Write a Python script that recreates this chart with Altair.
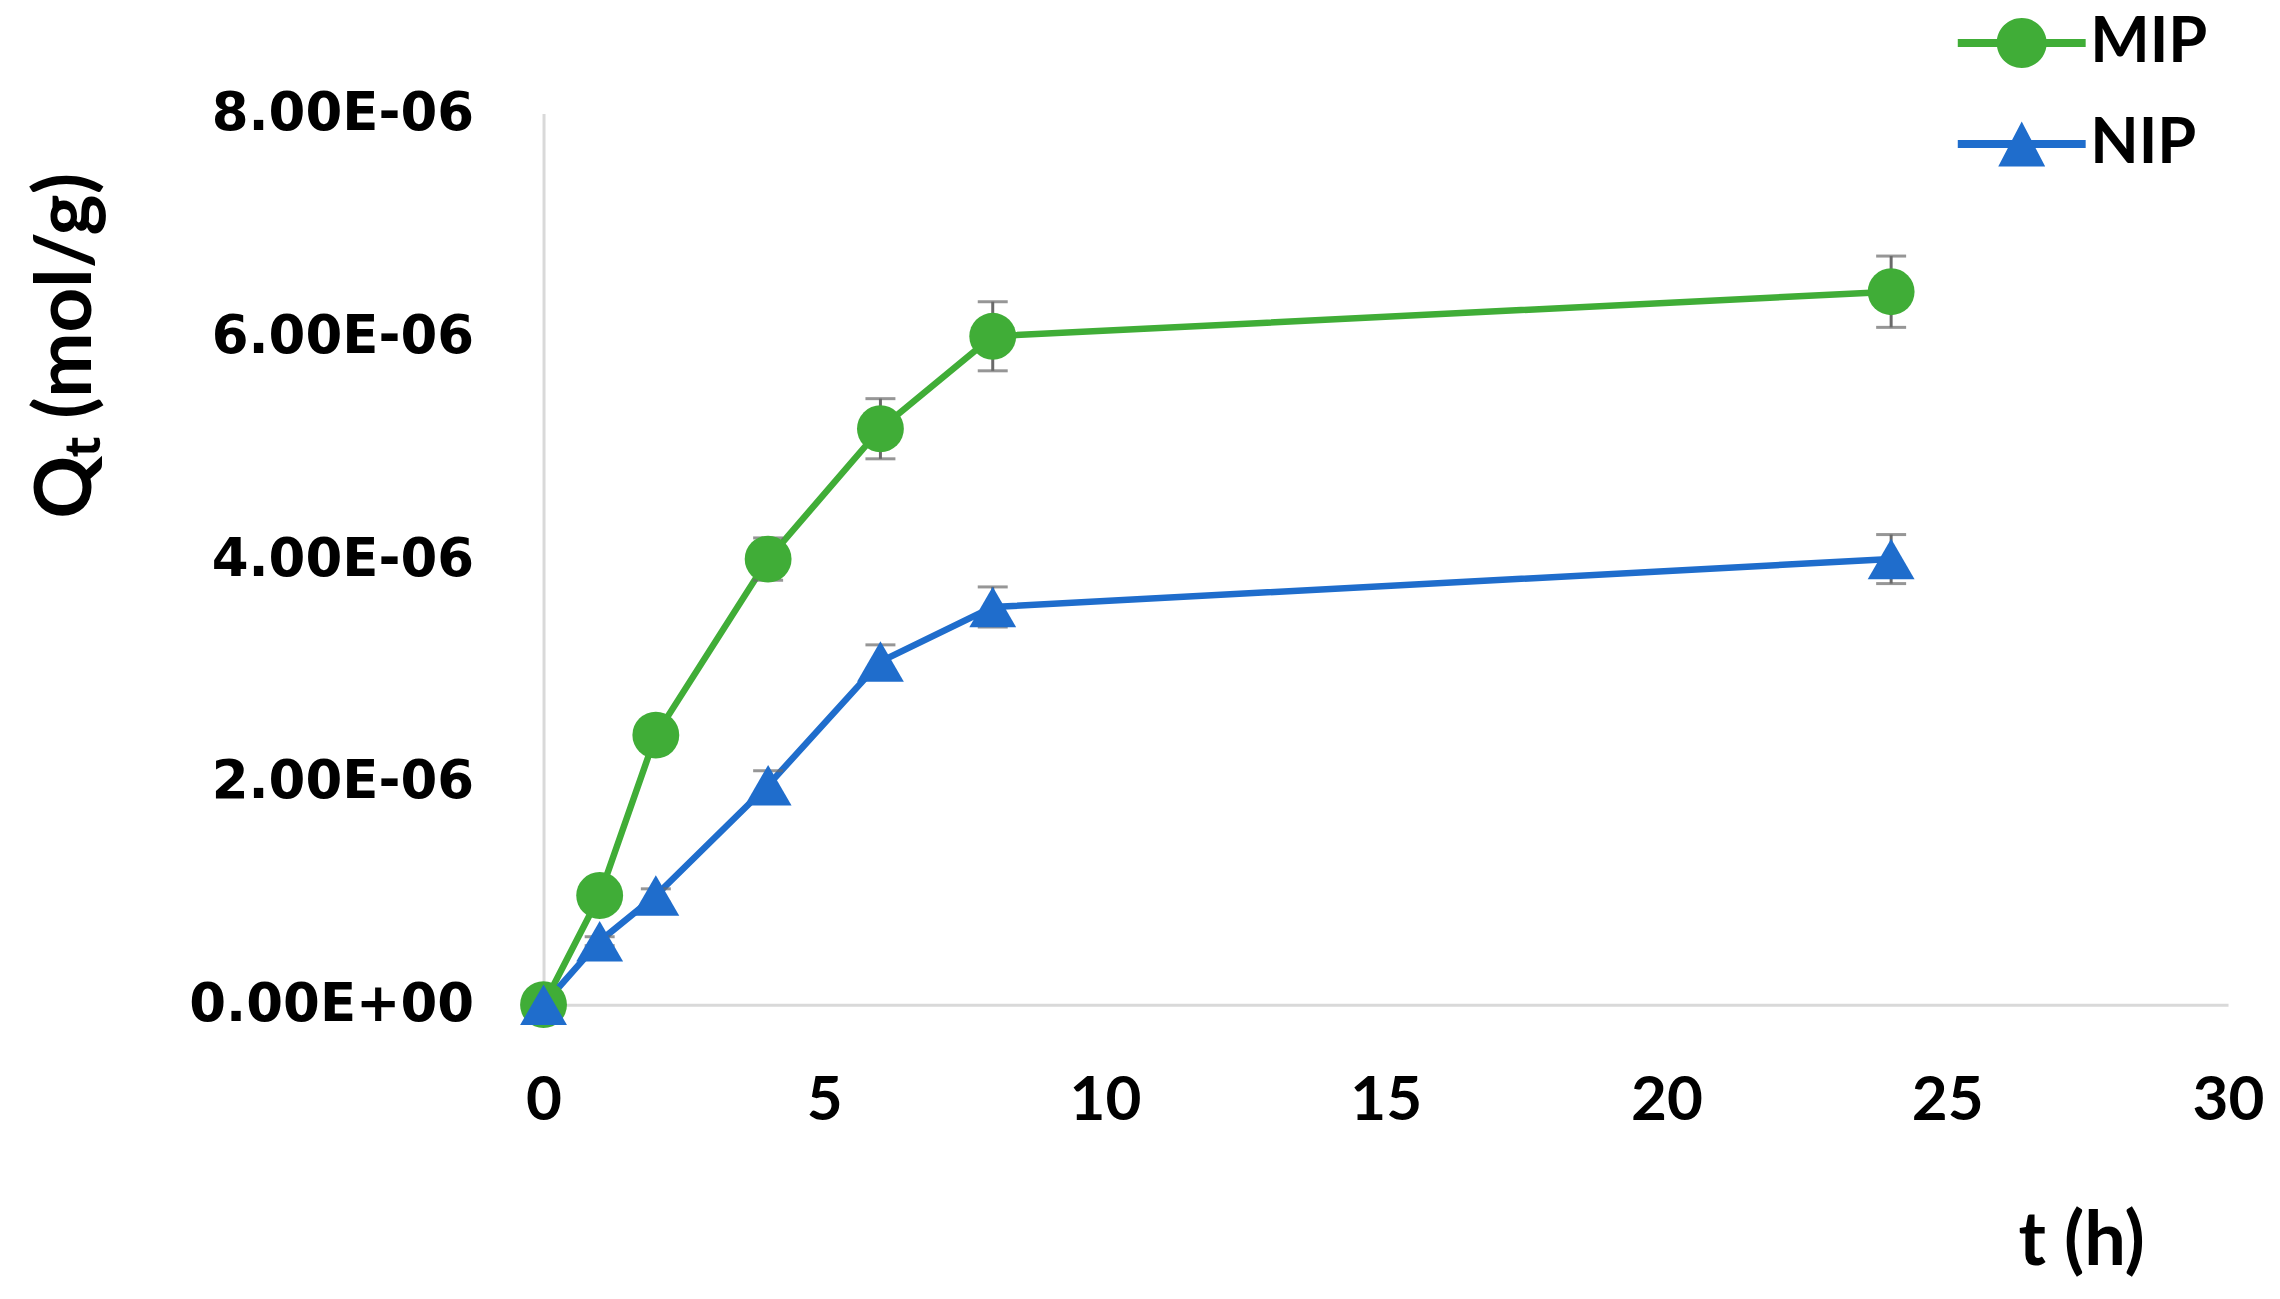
import altair as alt
import pandas as pd

# ---- data ----
t_hours = [0, 1, 2, 4, 6, 8, 24]
mip_q = [0.0, 0.98e-6, 2.42e-6, 4.00e-6, 5.17e-6, 6.00e-6, 6.40e-6]
mip_err = [0.0, 0.04e-6, 0.06e-6, 0.19e-6, 0.27e-6, 0.31e-6, 0.32e-6]
nip_q = [0.0, 0.57e-6, 0.98e-6, 1.97e-6, 3.08e-6, 3.57e-6, 4.00e-6]
nip_err = [0.0, 0.04e-6, 0.06e-6, 0.13e-6, 0.15e-6, 0.18e-6, 0.22e-6]
series_names = ["MIP", "NIP"]
series_colors = ["#40AD37", "#1F6DCC"]
x_ticks = [0, 5, 10, 15, 20, 25, 30]
y_ticks = [0, 2e-6, 4e-6, 6e-6, 8e-6]

rows = []
for name, qs, es in [("MIP", mip_q, mip_err), ("NIP", nip_q, nip_err)]:
    for t, q, e in zip(t_hours, qs, es):
        rows.append({"series": name, "t": t, "q": q, "lo": q - e, "hi": q + e})
df = pd.DataFrame(rows)

# legend symbols: line segment + marker (custom paths in unit coords)
bar = "M-2.56,-0.16L2.56,-0.16L2.56,0.16L-2.56,0.16Z"
mip_path = bar + "M1,0A1,1,0,1,1,-1,0A1,1,0,1,1,1,0Z"
nip_path = bar + "M0,-0.9L0.94,0.9L-0.94,0.9Z"

x_axis = alt.Axis(
    values=x_ticks, title="t (h)", grid=False, ticks=False,
    domainColor="#D9D9D9", domainWidth=3,
    labelFont="Lato", labelFontSize=62, labelFontWeight="bold", labelColor="black",
    labelPadding=66, labelFlush=False,
    titleFont="Lato", titleFontSize=74, titleFontWeight="bold", titleColor="black",
    titleX=1539, titleY=238, titleAlign="center", titleBaseline="middle",
)
y_axis = alt.Axis(
    values=y_ticks, title="Qₜ (mol/g)", grid=False, ticks=False,
    domainColor="#D9D9D9", domainWidth=3,
    labelExpr="datum.value == 0 ? '0.00E+00' : format(datum.value / 1e-6, '.2f') + 'E-06'",
    labelFont="DejaVu Sans", labelFontSize=53, labelFontWeight="bold", labelColor="black",
    labelPadding=70, labelLimit=600,
    titleFont="Lato", titleFontSize=78, titleFontWeight="bold", titleColor="black",
    titleX=-476, titleY=232, titleAlign="center", titleBaseline="middle", titleAngle=270,
)

xs = alt.Scale(domain=[0, 30], nice=False, zero=False)
ys = alt.Scale(domain=[0, 8e-6], nice=False, zero=False)

base = alt.Chart(df)
X = alt.X("t:Q", scale=xs, axis=x_axis)
Y = alt.Y("q:Q", scale=ys, axis=y_axis)

layers = []
for name, col in zip(series_names, series_colors):
    layers.append(
        base.transform_filter(alt.datum.series == name)
        .mark_line(color=col, strokeWidth=6.5)
        .encode(x=X, y=Y)
    )

errs = base.mark_errorbar(
    orient="vertical", color="#6A6A6A",
    ticks={"size": 30, "thickness": 3, "color": "#6A6A6A"},
    rule={"strokeWidth": 3, "color": "#6A6A6A"},
).encode(x=X, y=alt.Y("lo:Q", scale=ys, axis=y_axis), y2="hi:Q")
layers.append(errs)

for name, col, shp in zip(series_names, series_colors, ["circle", "triangle-up"]):
    layers.append(
        base.transform_filter(alt.datum.series == name)
        .mark_point(filled=True, shape=shp, size=2200, color=col, opacity=1, strokeWidth=0)
        .encode(x=X, y=Y)
    )

legend = alt.Legend(
    title=None, orient="none", legendX=1448, legendY=-102, direction="vertical",
    padding=0, symbolSize=2500, symbolStrokeWidth=0, symbolOpacity=1,
    labelFont="Lato", labelFontSize=63, labelFontWeight="bold", labelColor="black",
    labelOffset=37, rowPadding=37, labelBaseline="middle",
)
legend_layer = (
    base.transform_filter("false")
    .mark_point(filled=True, opacity=1, strokeWidth=0)
    .encode(
        x=X, y=Y,
        color=alt.Color("series:N", scale=alt.Scale(domain=series_names, range=series_colors), legend=legend),
        shape=alt.Shape("series:N", scale=alt.Scale(domain=series_names, range=[mip_path, nip_path]), legend=legend),
    )
)
layers.append(legend_layer)

chart = (
    alt.layer(*layers)
    .properties(
        width=1686, height=892,
        padding={"left": 536, "top": 105, "right": 44, "bottom": 280},
        autosize=alt.AutoSizeParams(type="none"),
        background="white",
    )
    .configure_view(stroke=None)
)

chart.save("out.html", embed_options={"renderer": "svg", "actions": False})
